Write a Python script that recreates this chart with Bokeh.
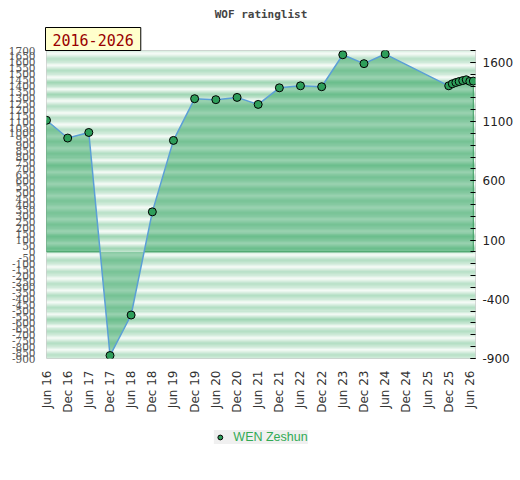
import numpy as np
import pandas as pd
from bokeh.plotting import figure
from bokeh.layouts import column
from bokeh.models import (LinearAxis, FixedTicker, Range1d, Legend, LegendItem,
                          Title)
from bokeh.embed import file_html
from bokeh.resources import INLINE

# ---- data ----
dates = ["2016-06-01", "2016-12-01", "2017-06-01", "2017-12-01", "2018-06-01",
         "2018-12-01", "2019-06-01", "2019-12-01", "2020-06-01", "2020-12-01",
         "2021-06-01", "2021-12-01", "2022-06-01", "2022-12-01", "2023-06-01",
         "2023-12-01", "2024-06-01", "2025-12-01", "2026-01-01", "2026-02-01",
         "2026-03-01", "2026-04-01", "2026-05-01", "2026-06-01", "2026-07-01"]
ratings = [1111, 961, 1008, -875, -533, 338, 941, 1293, 1285, 1304, 1245, 1385,
           1402, 1394, 1664, 1589, 1670, 1402, 1419, 1430, 1438, 1446, 1453,
           1440, 1442]
player = "WEN Zeshun"
title_text = "WOF ratinglist"
period_text = "2016-2026"
tick_dates = [f"{y}-{m}-01" for y in range(2016, 2027) for m in ("06", "12")][:-1]
tick_labels = [pd.Timestamp(d).strftime("%b %y") for d in tick_dates]
y_min, y_max = -900, 1700
left_ticks = list(range(-900, 1701, 50))
right_ticks = [-900, -400, 100, 600, 1100, 1600]
right_minor = list(range(-900, 1701, 100))


def ms(d):
    return pd.Timestamp(d).value / 1e6


x = np.array([ms(d) for d in dates])
y = np.array(ratings, dtype=float)
x_start = x[0]
x_end = ms("2026-07-20")

p = figure(x_axis_type="datetime", width=520, height=415,
           x_range=Range1d(x_start, x_end), y_range=Range1d(y_min, y_max),
           output_backend="svg", toolbar_location=None, title=None,
           min_border_left=46, min_border_right=45, min_border_top=50,
           min_border_bottom=55)
p.background_fill_color = "white"
p.border_fill_color = "white"
p.outline_line_color = "#cfcfcf"
p.outline_line_width = 1
p.xgrid.visible = False
p.ygrid.visible = False

# ---- background stripes ----
profile = np.array([0.55, 0.35, 0.15, 0.08, 0.25, 0.45, 0.65, 0.85, 1.0, 0.9, 0.78, 0.65])
green = np.array([162, 215, 182])
white = np.array([248, 252, 249])
n = len(profile)
bot, top, cols = [], [], []
for b in range(y_min, y_max, 100):
    edges = np.linspace(b + 100, b, n + 1)
    for i in range(n):
        c = white + (green - white) * profile[i]
        cols.append("#%02x%02x%02x" % tuple(int(v) for v in c))
        top.append(edges[i])
        bot.append(edges[i + 1])
p.quad(left=x_start, right=x_end, bottom=bot, top=top, fill_color=cols,
       line_color=None)

# ---- area ----
p.varea(x=x, y1=0, y2=y, fill_color="#2aa05a", fill_alpha=0.45)

segs_x, segs_y = [[x[0], x[0]]], [[y[0], 0]]
cur = x[0] if y[0] > 0 else None
for i in range(1, len(x)):
    if (y[i - 1] > 0) != (y[i] > 0):
        xc = x[i - 1] + (x[i] - x[i - 1]) * (0 - y[i - 1]) / (y[i] - y[i - 1])
        if cur is not None:
            segs_x.append([cur, xc]); segs_y.append([0, 0]); cur = None
        else:
            cur = xc
if cur is not None:
    segs_x.append([cur, x[-1]]); segs_y.append([0, 0])
segs_x.append([x[-1], x[-1]]); segs_y.append([0, y[-1]])
p.multi_line(xs=segs_x, ys=segs_y, line_color="#3a9a5e", line_width=1)

p.line(x, y, line_color="#5b9fd6", line_width=1.5)
p.scatter(x, y, size=8, fill_color="#2e9e5a", line_color="black", line_width=1)

# ---- axes ----
xa = p.xaxis[0]
xa.ticker = FixedTicker(ticks=[ms(d) for d in tick_dates])
xa.major_label_overrides = {ms(d): l for d, l in zip(tick_dates, tick_labels)}
xa.major_label_orientation = np.pi / 2
xa.major_label_text_font = "DejaVu Sans"
xa.major_label_text_font_size = "12px"
xa.major_label_text_color = "#333333"
xa.major_tick_out = 0
xa.major_tick_in = 0
xa.minor_tick_out = 0
xa.minor_tick_in = 0
xa.axis_line_color = None
xa.major_label_standoff = 12

ya = p.yaxis[0]
ya.ticker = FixedTicker(ticks=left_ticks)
ya.major_label_overrides = {t: str(t) for t in left_ticks}
ya.major_label_text_font = "DejaVu Serif"
ya.major_label_text_font_size = "10.5px"
ya.major_label_text_color = "#555555"
ya.major_tick_out = 0
ya.major_tick_in = 0
ya.minor_tick_out = 0
ya.minor_tick_in = 0
ya.axis_line_color = None
ya.major_label_standoff = 11

ra = LinearAxis(ticker=FixedTicker(ticks=right_ticks, minor_ticks=right_minor))
ra.major_label_overrides = {t: str(t) for t in right_ticks}
ra.major_label_text_font = "DejaVu Sans"
ra.major_label_text_font_size = "12px"
ra.major_label_text_color = "#222222"
ra.major_tick_in = 5
ra.major_tick_out = 0
ra.minor_tick_in = 5
ra.minor_tick_out = 0
ra.axis_line_color = None
ra.major_tick_line_color = "black"
ra.minor_tick_line_color = "black"
ra.major_label_standoff = 7
p.add_layout(ra, "right")

period = Title(text=period_text, align="left", offset=-1, standoff=0,
               text_font="DejaVu Sans Mono", text_font_size="15px",
               text_font_style="normal", text_color="#990000",
               background_fill_color="#ffffcc", border_line_color="black",
               border_line_width=1,
               padding=dict(left=7, right=7, top=6, bottom=5))
p.add_layout(period, "above")
main = Title(text=title_text, align="center", standoff=10,
             text_font="DejaVu Sans Mono", text_font_size="11px",
             text_font_style="bold", text_color="#444444")
p.add_layout(main, "above")

# ---- legend strip (same series, outside this strip's view) ----
q = figure(width=520, height=43, x_range=Range1d(0, 1), y_range=Range1d(0, 1),
           output_backend="svg", toolbar_location=None,
           min_border_left=0, min_border_right=0, min_border_top=0,
           min_border_bottom=0, x_axis_location=None, y_axis_location=None)
q.outline_line_color = None
q.grid.visible = False
q.border_fill_color = "white"
q.background_fill_color = "white"
lr = q.scatter(x, y, size=8, fill_color="#2e9e5a", line_color="black",
               line_width=1)
leg = Legend(items=[LegendItem(label=player, renderers=[lr])],
             location="center", orientation="horizontal",
             background_fill_color="#f0f0f0",
             background_fill_alpha=1, border_line_color=None,
             label_text_color="#33aa55", label_text_font="Liberation Sans",
             label_text_font_size="12.5px", glyph_width=12, glyph_height=12,
             label_standoff=8, padding=5, margin=0)
q.add_layout(leg, "center")

open("out.html", "w").write(file_html(column(p, q, spacing=0), INLINE))
